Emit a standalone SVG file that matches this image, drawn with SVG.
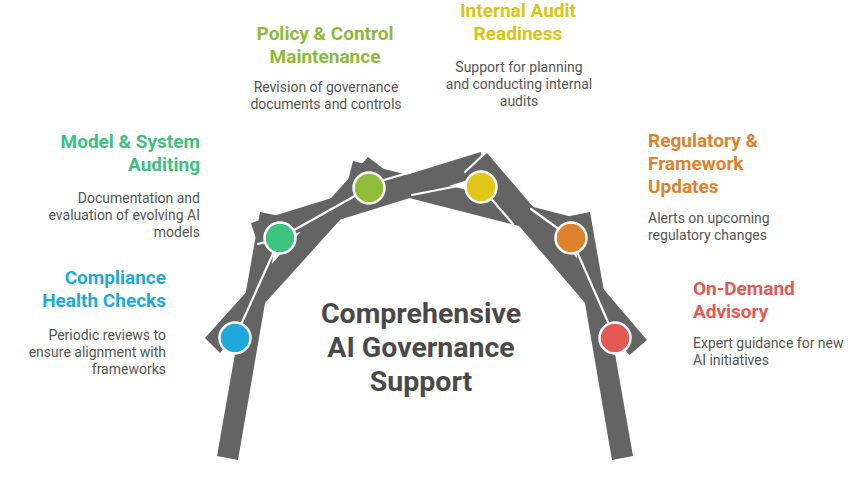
<svg xmlns="http://www.w3.org/2000/svg" width="848" height="487" viewBox="0 0 848 487">
<style>
.plank{fill:#646464}
.wl{stroke:#fff;stroke-width:2.2;fill:none;stroke-linecap:round}
.node circle{stroke:#fff;stroke-width:2.5}
.t{font-family:Roboto,"Liberation Sans",sans-serif;font-weight:700;font-size:19px}
.s{font-family:Roboto,"Liberation Sans",sans-serif;font-size:14px;fill:#555}
.c{font-family:Roboto,"Liberation Sans",sans-serif;font-weight:700;font-size:28.5px;fill:#4a4a4a}
</style>
<rect width="848" height="487" fill="#fff"/>
<g id="connectors">
<polygon class="plank" points="217,456 238,460 280,216 260,212"/>
<polygon class="plank" points="633,456 612,460 570,216 590,212"/>
<polygon class="plank" points="353,161 592,222 586.6,243.3 347.6,182.3"/>
<polygon class="plank" points="205,338 368,157 385,170 220,353"/>
<polygon class="plank" points="251,223 480.6,152 487.4,174 258,245"/>
<polygon class="plank" points="487,153 647,340 629.5,355 469.5,168"/>
<line class="wl" x1="465" y1="172" x2="483" y2="155"/>
<line class="wl" x1="235" y1="338" x2="280" y2="238"/>
<line class="wl" x1="280" y1="238" x2="369" y2="188"/>
<line class="wl" x1="258" y1="244" x2="280" y2="238"/>
<line class="wl" x1="384" y1="180" x2="418" y2="170"/>
<line class="wl" x1="412" y1="195" x2="468" y2="184"/>
<line class="wl" x1="481" y1="187" x2="513" y2="224"/>
<line class="wl" x1="531" y1="209" x2="571" y2="238"/>
<line class="wl" x1="571" y1="238" x2="615" y2="338"/>
</g>
<g id="center">
<text class="c" text-anchor="middle" x="421" y="323">Comprehensive</text>
<text class="c" text-anchor="middle" x="421" y="357">AI Governance</text>
<text class="c" text-anchor="middle" x="421" y="391">Support</text>
</g>
<g id="compliance" class="node">
<circle cx="235" cy="338" r="15.5" fill="#1EA9DC"/>
<text class="t" fill="#1EA9DC" text-anchor="end" x="166" y="284">Compliance</text>
<text class="t" fill="#1EA9DC" text-anchor="end" x="166" y="307">Health Checks</text>
<text class="s" text-anchor="end" x="166" y="340">Periodic reviews to</text>
<text class="s" text-anchor="end" x="166" y="357">ensure alignment with</text>
<text class="s" text-anchor="end" x="166" y="374">frameworks</text>
</g>
<g id="model" class="node">
<circle cx="280" cy="238" r="15.5" fill="#3EC381"/>
<text class="t" fill="#3EC07F" text-anchor="end" x="200" y="148">Model &amp; System</text>
<text class="t" fill="#3EC07F" text-anchor="end" x="200" y="171">Auditing</text>
<text class="s" text-anchor="end" x="200" y="203">Documentation and</text>
<text class="s" text-anchor="end" x="200" y="220">evaluation of evolving AI</text>
<text class="s" text-anchor="end" x="200" y="237">models</text>
</g>
<g id="policy" class="node">
<circle cx="369" cy="188" r="15.5" fill="#8FBD3B"/>
<text class="t" fill="#8DBA3A" text-anchor="middle" x="325" y="40">Policy &amp; Control</text>
<text class="t" fill="#8DBA3A" text-anchor="middle" x="325" y="63">Maintenance</text>
<text class="s" text-anchor="middle" x="326" y="92">Revision of governance</text>
<text class="s" text-anchor="middle" x="326" y="109">documents and controls</text>
</g>
<g id="audit" class="node">
<circle cx="481" cy="187" r="15.5" fill="#E0C719"/>
<text class="t" fill="#DCC416" text-anchor="middle" x="518" y="17">Internal Audit</text>
<text class="t" fill="#DCC416" text-anchor="middle" x="518" y="40">Readiness</text>
<text class="s" text-anchor="middle" x="519" y="72">Support for planning</text>
<text class="s" text-anchor="middle" x="519" y="89">and conducting internal</text>
<text class="s" text-anchor="middle" x="519" y="106">audits</text>
</g>
<g id="regulatory" class="node">
<circle cx="571" cy="238" r="15.5" fill="#E0822D"/>
<text class="t" fill="#E0822D" x="648" y="147">Regulatory &amp;</text>
<text class="t" fill="#E0822D" x="648" y="170">Framework</text>
<text class="t" fill="#E0822D" x="648" y="193">Updates</text>
<text class="s" x="648" y="223">Alerts on upcoming</text>
<text class="s" x="648" y="240">regulatory changes</text>
</g>
<g id="advisory" class="node">
<circle cx="615" cy="338" r="15.5" fill="#E55955"/>
<text class="t" fill="#E55955" x="693" y="295">On-Demand</text>
<text class="t" fill="#E55955" x="693" y="318">Advisory</text>
<text class="s" x="693" y="348">Expert guidance for new</text>
<text class="s" x="693" y="365">AI initiatives</text>
</g>
</svg>
